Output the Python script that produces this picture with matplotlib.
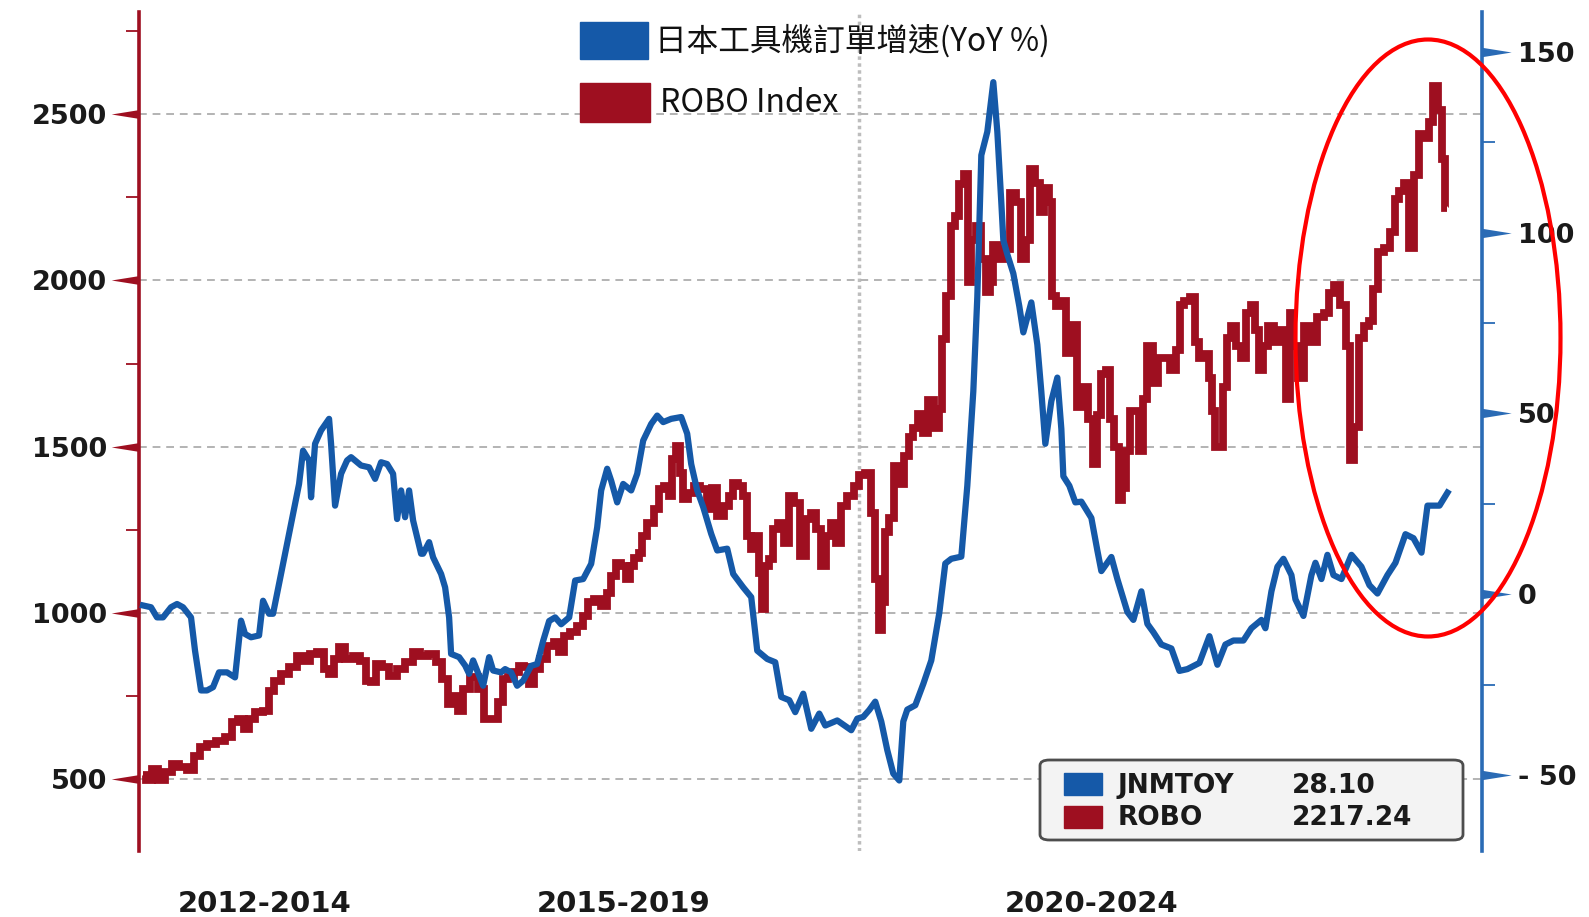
import matplotlib
matplotlib.use("Agg")
import matplotlib.pyplot as plt
from matplotlib.patches import Rectangle, FancyBboxPatch, Ellipse
import numpy as np

plt.rcParams['font.family'] = ['DejaVu Sans', 'Noto Sans CJK TC']
plt.rcParams['axes.unicode_minus'] = False

# weeks since start of 2012
jnm_week = [2, 6, 9, 12, 16, 19, 22, 26, 28, 31, 34, 37, 40, 44, 48, 51, 53, 56, 60, 62,
            65, 67, 70, 74, 77, 80, 82, 85, 86, 88, 91, 95, 96, 98, 101, 104, 106, 111, 115, 118,
            121, 124, 127, 129, 131, 133, 135, 137, 141, 142, 145, 147, 151, 153, 155, 156, 160, 163, 165, 167,
            171, 172, 175, 177, 181,
            183, 186, 189, 192, 196, 199, 202, 205, 208, 211, 215, 218, 222, 226, 229, 231, 234, 236, 239, 242,
            246, 249, 252, 256, 259, 262, 266, 271, 274, 276, 279, 282, 286, 289, 294, 297, 302, 306, 309, 314,
            318, 321, 325, 328, 332, 336, 340, 343, 349, 356, 359, 362, 365, 368,
            371, 374, 377, 380, 382, 384, 388, 392, 396, 400, 403, 406, 411, 414, 417, 419, 421, 424, 427, 429,
            431, 432, 434, 437, 440, 442, 446, 449, 451, 453, 456, 459, 461, 462, 465, 468,
            471, 476, 479, 481, 486, 489, 494, 497, 501, 504, 507, 511, 516, 520, 524, 530, 535, 539, 543, 547,
            552, 556, 561, 563, 566, 569, 572, 576, 578, 582, 586, 588, 591, 594, 597, 601, 606, 611, 615, 619,
            624, 628, 633, 637, 641, 644, 647, 650, 654]
jnm_yoy = [-3.1, -3.6, -6.4, -6.4, -3.6, -2.7, -3.6, -6.4, -15.6, -26.6, -26.6, -25.7, -21.6, -21.6, -23.0, -7.3, -11.0, -11.9, -11.4, -1.8,
           -5.4, -5.4, 2.9, 13.9, 22.2, 30.5, 39.7, 37.0, 26.8, 41.6, 45.3, 48.5, 41.6, 24.5, 33.3, 37.0, 37.9, 35.6, 35.1, 31.9,
           36.5, 36.0, 33.3, 20.8, 28.7, 21.3, 28.7, 20.4, 11.2, 11.2, 14.4, 10.2, 5.6, 1.9, -6.4, -16.5, -17.4, -19.7, -22.0, -18.3,
           -23.9, -25.3, -17.4, -21.1, -21.6,
           -20.7, -21.6, -25.3, -23.9, -19.8, -19.3, -12.9, -7.4, -6.4, -8.3, -6.4, 3.8, 4.2, 8.4, 18.5, 28.7, 34.7, 31.4, 25.4, 30.5,
           28.7, 33.3, 42.5, 47.1, 49.4, 47.6, 48.5, 49.0, 44.4, 36.0, 28.7, 24.1, 16.7, 12.1, 12.6, 5.6, 1.9, -0.8, -15.6, -17.9,
           -18.8, -28.4, -29.3, -32.6, -27.5, -37.2, -33.0, -36.3, -34.9, -37.6, -34.4, -33.9, -32.0, -29.7,
           -35.2, -43.1, -49.6, -51.5, -35.2, -31.9, -30.7, -24.8, -18.3, -5.2, 8.5, 9.8, 10.4, 30.0, 56.1, 82.2, 121.4, 127.9, 141.6, 127.9,
           108.3, 97.9, 94.0, 88.7, 79.6, 72.4, 80.7, 69.0, 56.0, 41.6, 53.4, 59.9, 45.7, 32.6, 30.0, 25.4,
           25.6, 21.1, 12.1, 6.4, 10.3, 4.2, -4.9, -7.1, 0.8, -8.2, -10.5, -13.9, -15.0, -21.2, -20.7, -19.0, -11.6, -19.5, -13.9, -12.8,
           -12.8, -9.4, -7.1, -9.4, 0.8, 7.6, 9.8, 5.3, -1.4, -6.0, 5.3, 8.7, 4.2, 10.9, 5.3, 4.2, 10.9, 7.6, 2.5, 0.2,
           5.3, 8.7, 16.6, 15.5, 11.5, 24.5, 24.5, 24.5, 28.10]

robo_week = [2, 5, 8, 11, 15, 18, 22, 26, 29, 32, 36, 41, 45, 48, 51, 54, 56, 60, 64, 66,
             69, 73, 77, 81, 84, 87, 91, 94, 96, 99, 101, 105, 109, 112, 115, 117, 120, 123, 127, 131,
             135, 139, 142, 147, 150, 153, 156, 158, 161, 163, 168, 171, 174, 178,
             181, 183, 186, 189, 191, 194, 196, 199, 202, 206, 209, 211, 214, 217, 221, 223, 226, 229, 233, 235,
             237, 240, 242, 245, 246, 249, 251, 252, 256, 259, 261, 264, 266, 267, 270, 271, 273, 276, 279, 282,
             286, 287, 291, 294, 296, 298, 301, 303, 305, 307, 309, 311, 312, 314, 316, 318, 321, 324, 326, 329,
             332, 335, 337, 340, 342, 345, 347, 350, 352, 356, 359,
             361, 365, 367, 369, 371, 372, 374, 376, 379, 381, 384, 386, 388, 391, 393, 396, 399, 401, 402, 405,
             407, 409, 411, 414, 415, 417, 420, 422, 425, 426, 428, 431, 434, 437, 440, 442, 445, 446, 450, 451,
             454, 456, 457, 460, 462, 465, 467,
             471, 473, 476, 478, 480, 482, 485, 486, 489, 491, 492, 495, 496, 499, 501, 503, 505, 506, 508, 511,
             514, 517, 520, 521, 524, 527, 529, 531, 534, 536, 537, 539, 541, 543, 545, 547, 550, 552, 555, 557,
             559, 561, 563, 566, 569, 572, 575, 576, 578, 581, 584, 587, 591, 594, 596, 599, 602, 605, 606, 609,
             611, 614, 616, 618, 621, 624, 627, 629, 631, 634, 636, 639, 641, 644, 646, 648, 651, 652, 654]
robo_idx = [512, 497, 532, 497, 522, 547, 537, 527, 572, 597, 607, 617, 627, 672, 682, 652, 682, 702, 707, 767,
            797, 817, 837, 872, 857, 877, 882, 832, 817, 862, 897, 862, 872, 857, 797, 792, 847, 837, 812, 832,
            852, 882, 872, 877, 852, 802, 727, 752, 707, 772, 807, 772, 682, 682,
            732, 802, 807, 822, 842, 837, 787, 832, 862, 902, 912, 882, 932, 942, 962, 992, 1032, 1042, 1022, 1062,
            1112, 1152, 1142, 1102, 1142, 1167, 1182, 1232, 1272, 1312, 1372, 1382, 1352, 1462, 1502, 1422, 1342, 1362, 1382, 1372,
            1312, 1377, 1292, 1322, 1352, 1392, 1382, 1352, 1232, 1192, 1232, 1122, 1012, 1142, 1162, 1252, 1272, 1212, 1352, 1332,
            1172, 1282, 1302, 1252, 1142, 1232, 1272, 1212, 1322, 1352, 1382,
            1415, 1422, 1301, 1103, 948, 1033, 1245, 1287, 1443, 1387, 1471, 1528, 1556, 1599, 1542, 1641, 1556, 1613, 1825, 1952,
            2164, 2193, 2291, 2320, 1994, 2122, 2164, 2065, 1966, 1994, 2108, 2065, 2094, 2263, 2235, 2065, 2122, 2334, 2292, 2207,
            2278, 2235, 1952, 1924, 1938, 1783, 1867,
            1620, 1681, 1583, 1449, 1595, 1718, 1730, 1583, 1498, 1339, 1376, 1486, 1608, 1608, 1486, 1645, 1803, 1803, 1693, 1767,
            1767, 1730, 1791, 1925, 1938, 1950, 1816, 1767, 1779, 1706, 1608, 1498, 1498, 1681, 1828, 1864, 1803, 1767, 1901, 1925,
            1852, 1730, 1803, 1864, 1816, 1852, 1645, 1901, 1803, 1706, 1864, 1816, 1889, 1901, 1962, 1987, 1925, 1803, 1461, 1559,
            1828, 1864, 1877, 1975, 2085, 2097, 2146, 2244, 2268, 2293, 2097, 2317, 2439, 2427, 2476, 2586, 2512, 2366, 2217.24]

left_ticks = [500, 1000, 1500, 2000, 2500]
left_minor = [750, 1250, 1750, 2250, 2750]
right_ticks = [-50, 0, 50, 100, 150]
right_labels = ['- 50', '0', '50', '100', '150']
right_minor = [-25, 25, 75, 125]
period_labels = ['2012-2014', '2015-2019', '2020-2024']
period_pos = [63, 242, 476]
period_break = 360

BLUE = '#1559a8'
RED = '#9e0f20'
W, H = 1589, 917

fig = plt.figure(figsize=(W / 100, H / 100), dpi=100)
ax = fig.add_axes([139 / W, 1 - 851 / H, (1481.5 - 139) / W, (851 - 12) / H])
ax2 = ax.twinx()

ax.plot(robo_week, robo_idx, color=RED, lw=5.6, drawstyle='steps-mid',
        solid_joinstyle='miter', solid_capstyle='butt')
ax2.plot(jnm_week, jnm_yoy, color=BLUE, lw=4.5, solid_joinstyle='round')

ax.set_xlim(0, 671)
ax.set_ylim(285, 2807)
ax2.set_ylim(-71, 161)

for a in (ax, ax2):
    for s in ('top', 'bottom'):
        a.spines[s].set_visible(False)
ax.spines['right'].set_visible(False)
ax2.spines['left'].set_visible(False)
ax.spines['left'].set_color(RED)
ax.spines['left'].set_linewidth(2.6)
ax2.spines['right'].set_color('#2a6bb5')
ax2.spines['right'].set_linewidth(2.6)

ax.set_yticks(left_ticks)
ax.set_yticks(left_minor, minor=True)
ax.tick_params(axis='y', which='major', length=0, pad=23, labelsize=19.5, labelcolor='#1a1a1a')
ax.tick_params(axis='y', which='minor', length=9.5, width=1.3, color=RED)
ax2.set_yticks(right_ticks, labels=right_labels)
ax2.set_yticks(right_minor, minor=True)
ax2.tick_params(axis='y', which='major', length=0, pad=26, labelsize=19.5, labelcolor='#1a1a1a')
ax2.tick_params(axis='y', which='minor', length=9.5, width=1.3, color='#2a6bb5')
for lab in ax.get_yticklabels() + ax2.get_yticklabels():
    lab.set_fontweight('bold')

ax.set_xticks(period_pos, labels=period_labels)
ax.tick_params(axis='x', length=0, pad=28, labelsize=21)
for lab in ax.get_xticklabels():
    lab.set_fontweight('bold')
    lab.set_color('#1a1a1a')

ax.yaxis.grid(True, color='#b3b3b3', linestyle=(0, (4, 3)), linewidth=1.4)
ax.axvline(period_break, color='#bdbdbd', linestyle=(0, (1, 1)), linewidth=2.5, zorder=0)

# triangle tick marks
tri_left = [(0, 0.16), (-1, 0), (0, -0.16), (0, 0.16)]
tri_right = [(0, 0.16), (1, 0), (0, -0.16), (0, 0.16)]
ax.plot(np.zeros(len(left_ticks)), left_ticks, ls='none', marker=tri_left, ms=40,
        mfc=RED, mew=0, clip_on=False, transform=ax.get_yaxis_transform())
ax2.plot(np.ones(len(right_ticks)), right_ticks, ls='none', marker=tri_right, ms=42,
         mfc='#2a6bb5', mew=0, clip_on=False, transform=ax2.get_yaxis_transform())


def fx(x):
    return x / W


def fy(y):
    return 1 - y / H


# top legend
fig.add_artist(Rectangle((fx(580), fy(59)), 68 / W, 37 / H, transform=fig.transFigure, color=BLUE))
fig.add_artist(Rectangle((fx(580), fy(122)), 70 / W, 39 / H, transform=fig.transFigure, color=RED))
fig.text(fx(655), fy(41), '日本工具機訂單增速(YoY %)', family=['Noto Sans CJK TC'], fontsize=22.8,
         va='center', ha='left', color='#111111')
fig.text(fx(660), fy(103), 'ROBO Index', family=['Noto Sans CJK TC'], fontsize=23,
         va='center', ha='left', color='#111111')

# value box
fig.add_artist(FancyBboxPatch((fx(1040), fy(840)), 423 / W, 80 / H, transform=fig.transFigure,
                              boxstyle='round,pad=0,rounding_size=0.006', fc='#f3f3f3',
                              ec='#4d4d4d', lw=2, zorder=5))
fig.add_artist(Rectangle((fx(1064), fy(795)), 38 / W, 22 / H, transform=fig.transFigure, color=BLUE, zorder=6))
fig.add_artist(Rectangle((fx(1064), fy(828)), 38 / W, 22 / H, transform=fig.transFigure, color=RED, zorder=6))
box_rows = [('JNMTOY', '28.10', 786), ('ROBO', '2217.24', 818)]
for name, val, yy in box_rows:
    fig.text(fx(1118), fy(yy), name, fontsize=19, fontweight='bold', va='center', ha='left',
             color='#1a1a1a', zorder=7)
    fig.text(fx(1292), fy(yy), val, fontsize=19, fontweight='bold', va='center', ha='left',
             color='#1a1a1a', zorder=7)

# highlight ellipse
fig.add_artist(Ellipse((fx(1428), fy(338)), 265 / W, 597 / H, transform=fig.transFigure,
                       fill=False, ec='#ff0000', lw=3, zorder=8))

fig.savefig('out.png', dpi=100, facecolor='white')
